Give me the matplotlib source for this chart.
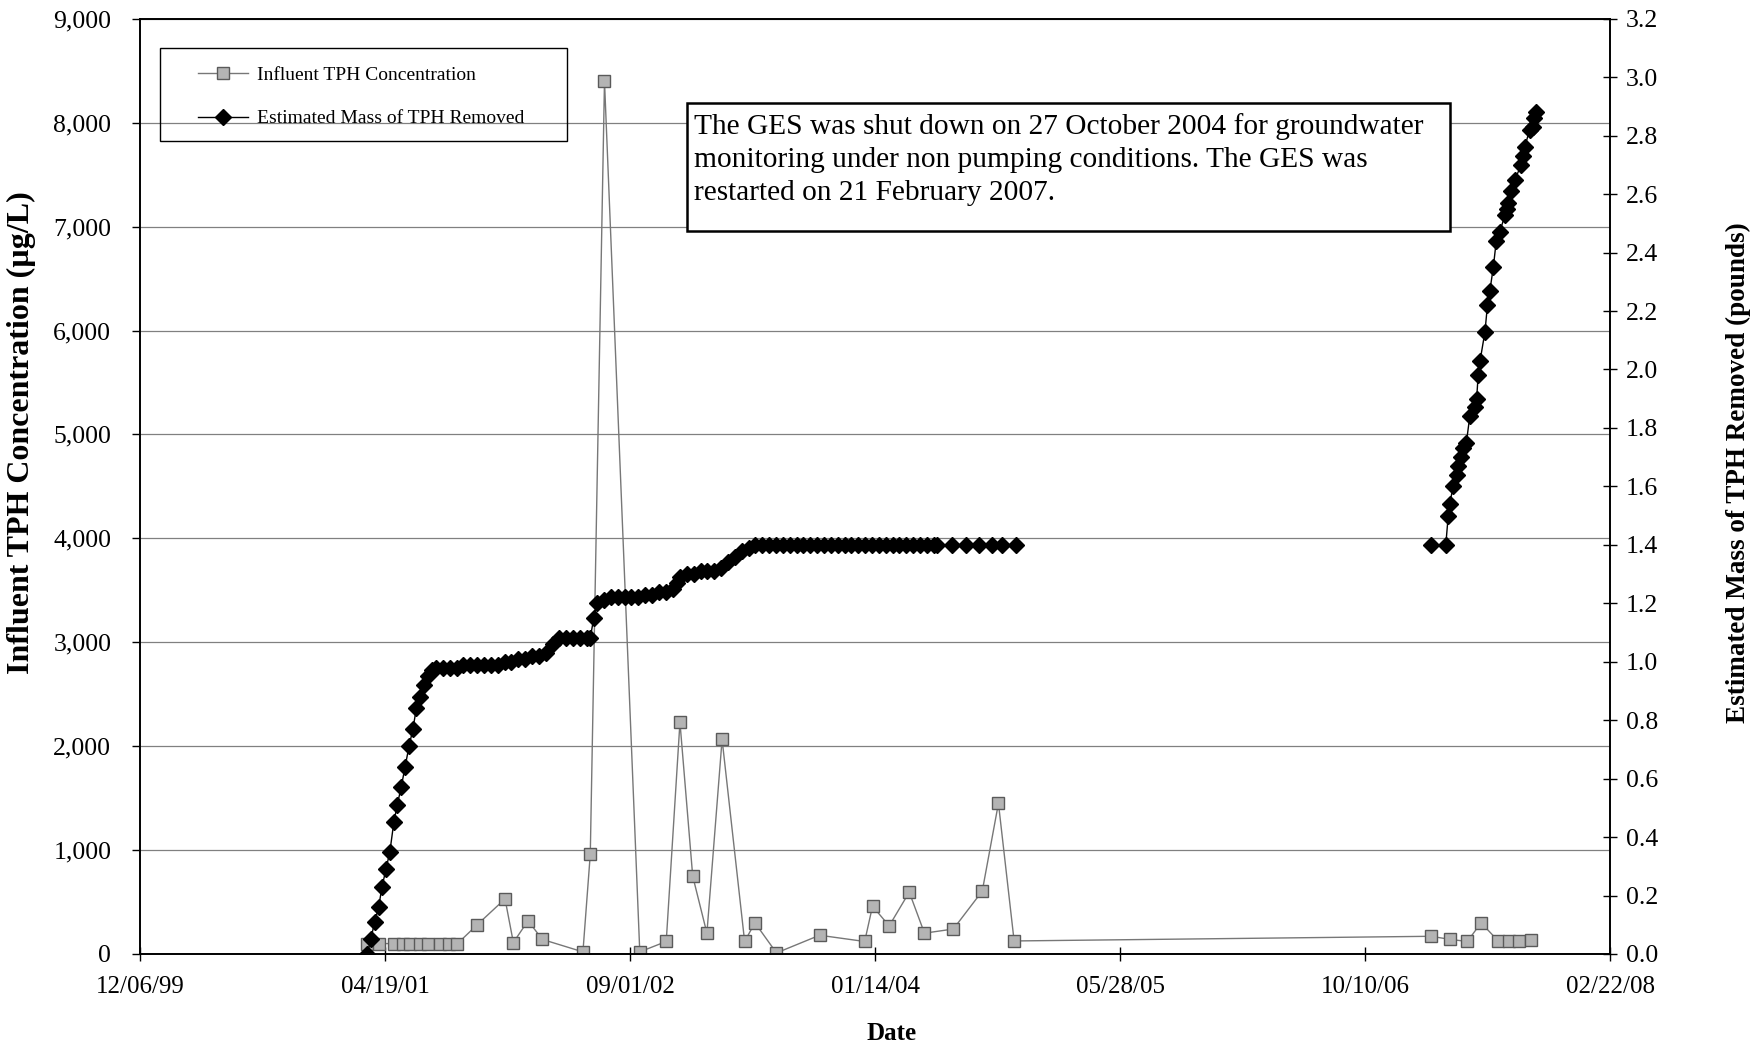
import matplotlib
matplotlib.use('Agg')
import matplotlib.pyplot as plt
import matplotlib.dates as mdates
from matplotlib.patches import Rectangle
from matplotlib.ticker import FuncFormatter
import numpy as np
import pandas as pd

plt.rcParams['font.family'] = ['Liberation Serif', 'DejaVu Serif']

# influent TPH concentration (ug/L)
influent_dates = [
    '2001-03-13', '2001-04-06', '2001-05-06', '2001-05-24', '2001-06-09',
    '2001-06-29', '2001-07-14', '2001-08-09', '2001-08-26', '2001-09-13',
    '2001-10-23', '2001-12-19', '2002-01-05', '2002-02-04', '2002-03-05',
    '2002-05-27', '2002-06-11', '2002-07-10', '2002-09-20', '2002-11-13',
    '2002-12-11', '2003-01-06', '2003-02-04', '2003-03-07', '2003-04-22',
    '2003-05-13', '2003-06-26', '2003-09-22', '2003-12-23', '2004-01-08',
    '2004-02-11', '2004-03-23', '2004-04-23', '2004-06-21', '2004-08-19',
    '2004-09-21', '2004-10-23', '2007-02-21', '2007-04-01', '2007-05-06',
    '2007-06-03', '2007-07-08', '2007-07-30', '2007-08-20', '2007-09-13',
]
influent_tph = [
    100, 100, 100, 100, 100,
    100, 100, 100, 100, 100,
    280, 530, 110, 320, 140,
    20, 960, 8400, 20, 120,
    2230, 750, 200, 2065, 120,
    300, 10, 180, 120, 460,
    270, 595, 200, 240, 605,
    1450, 125, 170, 140, 120,
    300, 125, 125, 125, 135,
]

# estimated cumulative mass of TPH removed (pounds)
mass_dates = [
    '2001-03-13', '2001-03-20', '2001-03-28', '2001-04-05', '2001-04-12',
    '2001-04-20', '2001-04-28', '2001-05-06', '2001-05-13', '2001-05-21',
    '2001-05-29', '2001-06-06', '2001-06-14', '2001-06-21', '2001-06-29',
    '2001-07-07', '2001-07-15', '2001-07-23', '2001-07-31', '2001-08-14',
    '2001-08-28', '2001-09-11', '2001-09-25', '2001-10-09', '2001-10-23',
    '2001-11-06', '2001-11-20', '2001-12-04', '2001-12-18', '2002-01-01',
    '2002-01-15', '2002-01-29', '2002-02-12', '2002-02-26', '2002-03-12',
    '2002-03-26', '2002-04-09', '2002-04-23', '2002-05-07', '2002-05-21',
    '2002-06-04', '2002-06-11', '2002-06-18', '2002-06-25', '2002-07-09',
    '2002-07-23', '2002-08-06', '2002-08-20', '2002-09-03', '2002-09-17',
    '2002-10-01', '2002-10-15', '2002-10-29', '2002-11-12', '2002-11-26',
    '2002-12-04', '2002-12-11', '2002-12-25', '2003-01-08', '2003-01-22',
    '2003-02-05', '2003-02-19', '2003-03-05', '2003-03-19', '2003-04-02',
    '2003-04-16', '2003-04-30', '2003-05-14', '2003-05-28', '2003-06-11',
    '2003-06-25', '2003-07-09', '2003-07-23', '2003-08-06', '2003-08-20',
    '2003-09-03', '2003-09-17', '2003-10-01', '2003-10-15', '2003-10-29',
    '2003-11-12', '2003-11-26', '2003-12-10', '2003-12-24', '2004-01-07',
    '2004-01-21', '2004-02-04', '2004-02-18', '2004-03-03', '2004-03-17',
    '2004-03-31', '2004-04-14', '2004-04-28', '2004-05-12', '2004-05-19',
    '2004-06-19', '2004-07-17', '2004-08-13', '2004-09-07', '2004-09-29',
    '2004-10-27', '2007-02-21', '2007-03-23', '2007-03-28', '2007-03-31',
    '2007-04-07', '2007-04-14', '2007-04-17', '2007-04-23', '2007-04-28',
    '2007-05-04', '2007-05-11', '2007-05-21', '2007-05-25', '2007-05-28',
    '2007-06-01', '2007-06-11', '2007-06-16', '2007-06-21', '2007-06-28',
    '2007-07-04', '2007-07-11', '2007-07-22', '2007-07-25', '2007-07-28',
    '2007-08-04', '2007-08-11', '2007-08-24', '2007-08-28', '2007-08-31',
    '2007-09-10', '2007-09-17', '2007-09-19', '2007-09-24',
]
mass_removed = [
    0.00, 0.05, 0.11, 0.16, 0.23,
    0.29, 0.35, 0.45, 0.51, 0.57,
    0.64, 0.71, 0.77, 0.84, 0.88,
    0.92, 0.95, 0.97, 0.98, 0.98,
    0.98, 0.98, 0.99, 0.99, 0.99,
    0.99, 0.99, 0.99, 1.00, 1.00,
    1.01, 1.01, 1.02, 1.02, 1.03,
    1.06, 1.08, 1.08, 1.08, 1.08,
    1.08, 1.08, 1.15, 1.20, 1.21,
    1.22, 1.22, 1.22, 1.22, 1.22,
    1.23, 1.23, 1.24, 1.24, 1.25,
    1.27, 1.29, 1.30, 1.30, 1.31,
    1.31, 1.31, 1.32, 1.34, 1.36,
    1.38, 1.39, 1.40, 1.40, 1.40,
    1.40, 1.40, 1.40, 1.40, 1.40,
    1.40, 1.40, 1.40, 1.40, 1.40,
    1.40, 1.40, 1.40, 1.40, 1.40,
    1.40, 1.40, 1.40, 1.40, 1.40,
    1.40, 1.40, 1.40, 1.40, 1.40,
    1.40, 1.40, 1.40, 1.40, 1.40,
    1.40, 1.40, 1.40, 1.50, 1.54,
    1.60, 1.64, 1.67, 1.70, 1.73,
    1.75, 1.84, 1.87, 1.90, 1.98,
    2.03, 2.13, 2.22, 2.27, 2.35,
    2.44, 2.47, 2.53, 2.55, 2.57,
    2.61, 2.65, 2.70, 2.73, 2.76,
    2.82, 2.83, 2.86, 2.88,
]

x_tick_dates = ['1999-12-06', '2001-04-19', '2002-09-01', '2004-01-14',
                '2005-05-28', '2006-10-10', '2008-02-22']

note = ("The GES was shut down on 27 October 2004 for groundwater\n"
        "monitoring under non pumping conditions. The GES was\n"
        "restarted on 21 February 2007.")

# the mass line is not drawn across the shutdown period
m_x = pd.to_datetime(mass_dates)
m_y = np.array(mass_removed, dtype=float)
gap = np.where(np.diff(m_x.values).astype('timedelta64[D]').astype(int) > 365)[0]
m_xp = list(m_x)
m_yp = list(m_y)
for i in gap[::-1]:
    m_xp.insert(i + 1, m_x[i] + pd.Timedelta(days=1))
    m_yp.insert(i + 1, np.nan)

fig = plt.figure(figsize=(17.56, 10.46), dpi=100)
ax = fig.add_axes([0.080, 0.088, 0.8371, 0.894])
ax2 = ax.twinx()

l1, = ax.plot(pd.to_datetime(influent_dates), influent_tph, color='#777777', lw=1.0,
              marker='s', ms=9, mfc='#b4b4b4', mec='#5a5a5a', mew=1.0,
              label='Influent TPH Concentration')
l2, = ax2.plot(m_xp, m_yp, color='black', lw=1.0,
               marker='D', ms=8, mfc='black', mec='black',
               label='Estimated Mass of TPH Removed')

ticks = pd.to_datetime(x_tick_dates)
ax.set_xlim(ticks[0], ticks[-1])
ax.set_xticks(ticks)
ax.xaxis.set_major_formatter(mdates.DateFormatter('%m/%d/%y'))

ax.set_ylim(0, 9000)
ax.set_yticks(range(0, 9001, 1000))
ax.yaxis.set_major_formatter(FuncFormatter(lambda v, p: f'{v:,.0f}'))
ax2.set_ylim(0, 3.2)
ax2.set_yticks([i * 0.2 for i in range(17)])
ax2.yaxis.set_major_formatter(FuncFormatter(lambda v, p: f'{v:.1f}'))

ax.yaxis.grid(True, color='#808080', lw=0.9)
ax.set_axisbelow(True)

for a in (ax, ax2):
    for s in a.spines.values():
        s.set_linewidth(1.2)
        s.set_color('black')

ax.tick_params(axis='y', direction='out', length=6, width=1, labelsize=18.5, pad=15)
ax.tick_params(axis='x', direction='inout', length=10, width=1, labelsize=18, pad=11)
ax2.tick_params(axis='y', direction='inout', length=10, width=1, labelsize=18.5, pad=6)

fig.text(0.0125, 0.586, 'Influent TPH Concentration (µg/L)', rotation=90,
         ha='center', va='center', fontsize=23, fontweight='bold')
fig.text(0.990, 0.548, 'Estimated Mass of TPH Removed (pounds)', rotation=90,
         ha='center', va='center', fontsize=19.5, fontweight='bold')
fig.text(0.5075, 0.012, 'Date', ha='center', va='center', fontsize=18,
         fontweight='bold')

# legend with its own box
fig.patches.append(Rectangle((0.091, 0.865), 0.232, 0.089, transform=fig.transFigure,
                             fill=False, edgecolor='black', lw=1.0))
fig.legend(handles=[l1, l2], loc='upper left', bbox_to_anchor=(0.1125, 0.937),
           bbox_transform=fig.transFigure, frameon=False, fontsize=14,
           handlelength=2.6, handletextpad=0.45, labelspacing=1.35,
           borderpad=0, borderaxespad=0)

# note box
fig.patches.append(Rectangle((0.3915, 0.7792), 0.4342, 0.1224, transform=fig.transFigure,
                             facecolor='white', edgecolor='black', lw=1.8, zorder=5))
fig.text(0.3955, 0.892, note, ha='left', va='top', fontsize=21.2, linespacing=1.34,
         zorder=6)

fig.savefig('out.png', dpi=100)
